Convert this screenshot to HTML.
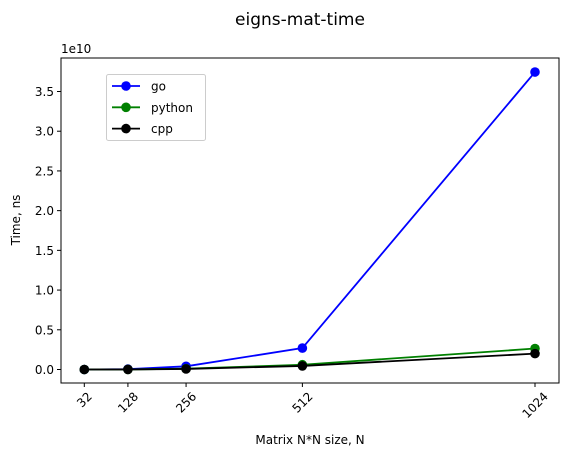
<!DOCTYPE html>
<html><head><meta charset="utf-8"><style>
body{margin:0;background:#fff;}
svg{display:block;font-family:"DejaVu Sans","Liberation Sans",sans-serif;}
</style></head><body>
<svg id="chart" width="570" height="458">
<text x="300" y="25" font-size="17" text-anchor="middle" fill="#000">eigns-mat-time</text>
<g id="plot"></g>
</svg>
<script>
const categories=[32,128,256,512,1024];
const goValues=[0.001e9,0.05e9,0.4e9,2.7e9,37.45e9];
const pythonValues=[0.001e9,0.01e9,0.1e9,0.6e9,2.64e9];
const cppValues=[0.001e9,0.01e9,0.07e9,0.45e9,2.0e9];
const yTicks=[0,0.5,1.0,1.5,2.0,2.5,3.0,3.5];
const yTickLabels=["0.0","0.5","1.0","1.5","2.0","2.5","3.0","3.5"];
const seriesNames=["go","python","cpp"];
const seriesColors=["#0000ff","#008000","#000000"];

const NS="http://www.w3.org/2000/svg";
const L=61,R=559,T=58,B=383;
const xs=v=>84.3+(v-32)*(535-84.3)/992;
const ys=v=>369.5-v/1e10*79.43;
const g=document.getElementById('plot');
function mk(tag,attrs,parent){const e=document.createElementNS(NS,tag);for(const k in attrs)e.setAttribute(k,attrs[k]);(parent||g).appendChild(e);return e;}

const frame=mk('rect',{x:L,y:T,width:R-L,height:B-T,fill:'none',stroke:'#000','stroke-width':1});



yTicks.forEach((t,i)=>{
  const y=ys(t*1e10);
  const ln=mk('line',{x1:L-4,x2:L,y1:y,y2:y,stroke:'#000'});
  
  
  const tx=mk('text',{x:L-7,y:y+4.5,'font-size':12,'text-anchor':'end'});
  tx.textContent=yTickLabels[i];
  
  
});
const exp=mk('text',{x:L,y:T-5,'font-size':12});
exp.textContent='1e10';



categories.forEach(c=>{
  const x=xs(c);
  const ln=mk('line',{x1:x,x2:x,y1:B,y2:B+4,stroke:'#000'});
  
  
  const s=String(c);
  const w=s.length*7.6;
  const cy=B+7+(w+12)*0.354;
  const tx=mk('text',{x:x,y:cy+4.3,'font-size':12,'text-anchor':'middle',transform:`rotate(-45 ${x} ${cy})`});
  tx.textContent=s;
  
  
});

const xt=mk('text',{x:310,y:444,'font-size':12,'text-anchor':'middle'});
xt.textContent='Matrix N*N size, N';


const yt=mk('text',{x:20,y:220,'font-size':12,'text-anchor':'middle',transform:'rotate(-90 20 220)'});
yt.textContent='Time, ns';



[goValues,pythonValues,cppValues].forEach((vals,si)=>{
  const pts=categories.map((c,i)=>xs(c)+','+ys(vals[i])).join(' ');
  const pl=mk('polyline',{points:pts,fill:'none',stroke:seriesColors[si],'stroke-width':1.8});
  
  
  categories.forEach((c,i)=>{
    const p=mk('circle',{cx:xs(c),cy:ys(vals[i]),r:4.8,fill:seriesColors[si]});
    
    
  });
});

const lg=mk('g',{});


mk('rect',{x:106.5,y:74.5,width:99,height:66,rx:2,fill:'#fff',stroke:'#ccc'},lg);
seriesNames.forEach((n,i)=>{
  const y=86+i*21.3;
  const e=mk('g',{},lg);
  
  
  mk('line',{x1:112,x2:140,y1:y,y2:y,stroke:seriesColors[i],'stroke-width':1.8},e);
  mk('circle',{cx:126,cy:y,r:4.8,fill:seriesColors[i]},e);
  const t=mk('text',{x:151,y:y+4.5,'font-size':12},e);
  t.textContent=n;
});
</script>
</body></html>
